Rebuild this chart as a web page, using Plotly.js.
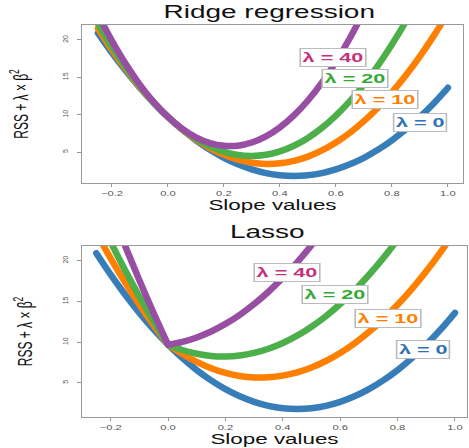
<!DOCTYPE html>
<html>
<head>
<meta charset="utf-8">
<script src="https://cdn.plot.ly/plotly-3.0.1.min.js"></script>
<style>
  html, body { margin: 0; padding: 0; background: #fff; }
  #chart { width: 469px; height: 448px; }
  .js-line { stroke-linecap: round; stroke-linejoin: round; }
</style>
</head>
<body>
<div id="chart"></div>
<script>
// Slope values (beta)
const beta = [-0.25, -0.20, -0.15, -0.10, -0.05, 0.00, 0.05, 0.10, 0.15, 0.20, 0.25, 0.30, 0.35,
              0.40, 0.45, 0.50, 0.55, 0.60, 0.65, 0.70, 0.75, 0.80, 0.85, 0.90, 0.95, 1.00];

// Ridge regression: RSS + lambda * beta^2
const ridge0  = [20.91, 18.28, 15.84, 13.60, 11.55, 9.70, 8.04, 6.58, 5.31, 4.24, 3.36, 2.68, 2.19,
                 1.90, 1.80, 1.90, 2.19, 2.68, 3.36, 4.24, 5.31, 6.58, 8.04, 9.70, 11.55, 13.60];
const ridge10 = [21.54, 18.68, 16.07, 13.70, 11.58, 9.70, 8.07, 6.68, 5.54, 4.64, 3.99, 3.58, 3.42,
                 3.50, 3.83, 4.40, 5.22, 6.28, 7.59, 9.14, 10.94, 12.98, 15.27, 17.80, 20.58, 23.60];
const ridge20 = [22.16, 19.08, 16.29, 13.80, 11.60, 9.70, 8.09, 6.78, 5.76, 5.04, 4.61, 4.48, 4.64,
                 5.10, 5.85, 6.90, 8.24, 9.88, 11.81, 14.04, 16.56, 19.38, 22.49, 25.90, 29.60, 33.60];
const ridge40 = [23.41, 19.88, 16.74, 14.00, 11.65, 9.70, 8.14, 6.98, 6.21, 5.84, 5.86, 6.28, 7.09,
                 8.30, 9.90, 11.90, 14.29, 17.08, 20.26, 23.84, 27.81, 32.18, 36.94, 42.10, 47.65, 53.60];

// Lasso: RSS + lambda * |beta|
const lasso0  = [20.91, 18.28, 15.84, 13.60, 11.55, 9.70, 8.04, 6.58, 5.31, 4.24, 3.36, 2.68, 2.19,
                 1.90, 1.80, 1.90, 2.19, 2.68, 3.36, 4.24, 5.31, 6.58, 8.04, 9.70, 11.55, 13.60];
const lasso10 = [23.41, 20.28, 17.34, 14.60, 12.05, 9.70, 8.54, 7.58, 6.81, 6.24, 5.86, 5.68, 5.69,
                 5.90, 6.30, 6.90, 7.69, 8.68, 9.86, 11.24, 12.81, 14.58, 16.54, 18.70, 21.05, 23.60];
const lasso20 = [25.91, 22.28, 18.84, 15.60, 12.55, 9.70, 9.04, 8.58, 8.31, 8.24, 8.36, 8.68, 9.19,
                 9.90, 10.80, 11.90, 13.19, 14.68, 16.36, 18.24, 20.31, 22.58, 25.04, 27.70, 30.55, 33.60];
const lasso40 = [30.91, 26.28, 21.84, 17.60, 13.55, 9.70, 10.04, 10.58, 11.31, 12.24, 13.36, 14.68, 16.19,
                 17.90, 19.80, 21.90, 24.19, 26.68, 29.36, 32.24, 35.31, 38.58, 42.04, 45.70, 49.55, 53.60];

const lambdaLabels = ['\u03bb = 0', '\u03bb = 10', '\u03bb = 20', '\u03bb = 40'];
const xTicks = [-0.2, 0.0, 0.2, 0.4, 0.6, 0.8, 1.0];
const yTicks = [5, 10, 15, 20];

const lineColors  = ['#377EB8', '#FF7F00', '#4DAF4A', '#984EA3'];
const labelColors = ['#2F73B3', '#FF8000', '#33A833', '#C4307A'];
const LW = 6.5;

const traces = [];
const ridgeSeries = [ridge0, ridge10, ridge20, ridge40];
ridgeSeries.forEach((ys, i) => {
  traces.push({x: beta, y: ys, xaxis: 'x', yaxis: 'y', mode: 'lines', name: lambdaLabels[i],
    line: {color: lineColors[i], width: LW, shape: 'spline'}, hoverinfo: 'skip'});
});
const lassoSeries = [lasso0, lasso10, lasso20, lasso40];
const k0 = beta.indexOf(0);
lassoSeries.forEach((ys, i) => {
  // left branch (beta <= 0) and right branch (beta >= 0), kink at zero
  traces.push({x: beta.slice(0, k0 + 1), y: ys.slice(0, k0 + 1), xaxis: 'x2', yaxis: 'y2', mode: 'lines',
    name: lambdaLabels[i], line: {color: lineColors[i], width: LW, shape: 'spline'}, hoverinfo: 'skip'});
  traces.push({x: beta.slice(k0), y: ys.slice(k0), xaxis: 'x2', yaxis: 'y2', mode: 'lines',
    name: lambdaLabels[i], line: {color: lineColors[i], width: LW, shape: 'spline'}, hoverinfo: 'skip'});
});

const FONT = 'Liberation Sans, Arial, Helvetica, sans-serif';
function xax(domain, range, anchor, standoff) {
  return {domain: domain, range: range, anchor: anchor, tickvals: xTicks, tickformat: '.1f',
    ticks: 'outside', ticklen: 3, tickcolor: '#999', tickwidth: 1,
    showline: true, mirror: true, linecolor: '#999', linewidth: 1.2,
    showgrid: false, zeroline: false, tickfont: {size: 7, color: '#555', family: FONT},
    title: {text: 'Slope values', font: {size: 14, color: '#111', family: FONT}, standoff: standoff}};
}
function yax(domain, range, anchor, standoff) {
  return {domain: domain, range: range, anchor: anchor, tickvals: yTicks, tickangle: -90,
    ticks: 'outside', ticklen: 4, tickcolor: '#999', tickwidth: 1,
    showline: true, mirror: true, linecolor: '#999', linewidth: 1.2, automargin: true,
    showgrid: false, zeroline: false, tickfont: {size: 7, color: '#555', family: FONT},
    title: {text: 'RSS + \u03bb \u00d7 \u03b2<sup>2</sup>', font: {size: 12, color: '#111', family: FONT}, standoff: standoff}};
}

const ridgeLabelPos = [[0.90, 8.9], [0.775, 12.0], [0.668, 14.8], [0.59, 17.7]];
const lassoLabelPos = [[0.889, 9.1], [0.767, 12.9], [0.582, 15.8], [0.415, 18.5]];
const annotations = [];
function addLabels(pos, xr, yr) {
  pos.forEach((p, i) => {
    annotations.push({x: p[0], y: p[1], xref: xr, yref: yr, text: '<b>' + lambdaLabels[i] + '</b>',
      showarrow: false, font: {size: 13.5, color: labelColors[i], family: FONT},
      bgcolor: 'white', bordercolor: '#BBBBBB', borderwidth: 1, borderpad: 1});
  });
}
addLabels(ridgeLabelPos, 'x', 'y');
addLabels(lassoLabelPos, 'x2', 'y2');
annotations.push({text: 'Ridge regression', xref: 'paper', yref: 'paper', x: 0.486, y: 1.033,
  xanchor: 'center', yanchor: 'middle', showarrow: false, font: {size: 17.5, color: '#111', family: FONT}});
annotations.push({text: 'Lasso', xref: 'paper', yref: 'paper', x: 0.483, y: 0.472,
  xanchor: 'center', yanchor: 'middle', showarrow: false, font: {size: 17.5, color: '#111', family: FONT}});

const layout = {
  width: 469, height: 448,
  margin: {l: 82, r: 2, t: 25, b: 31, autoexpand: false},
  showlegend: false,
  paper_bgcolor: 'white', plot_bgcolor: 'white',
  font: {family: FONT},
  xaxis: xax([0, 0.9896], [-0.307, 1.054], 'y', 3),
  yaxis: yax([0.597, 1], [0.87, 22.0], 'x', 40),
  xaxis2: xax([0, 1], [-0.30, 1.042], 'y2', 3),
  yaxis2: yax([0, 0.4362], [0.82, 21.8], 'x2', 36),
  annotations: annotations
};

function stretchX(el, s) {
  const r = el.getBoundingClientRect();
  if (!r.width) return;
  const svg = el.ownerSVGElement;
  const ctm = el.parentNode.getScreenCTM();
  if (!svg || !ctm) return;
  const pt = svg.createSVGPoint();
  pt.x = r.left + r.width / 2; pt.y = r.top + r.height / 2;
  const p = pt.matrixTransform(ctm.inverse());
  const old = el.getAttribute('transform') || '';
  el.setAttribute('transform', 'translate(' + p.x + ' 0) scale(' + s + ' 1) translate(' + (-p.x) + ' 0) ' + old);
}
function shiftX(el, dx) {
  const old = el.getAttribute('transform') || '';
  el.setAttribute('transform', 'translate(' + dx + ' 0) ' + old);
}

Plotly.newPlot('chart', traces, layout, {staticPlot: true}).then(gd => {
  const S = 1.6;
  gd.querySelectorAll('.annotation-text-g').forEach(el => stretchX(el, S));
  gd.querySelectorAll('.g-xtitle text, .g-x2title text').forEach(el => stretchX(el, S));
  gd.querySelectorAll('.g-ytitle text, .g-y2title text').forEach(el => stretchX(el, 1.65));
  gd.querySelectorAll('.xtick text, .x2tick text').forEach(el => stretchX(el, S));
  gd.querySelectorAll('.ytick text, .y2tick text').forEach(el => shiftX(el, -6));
});
</script>
</body>
</html>
